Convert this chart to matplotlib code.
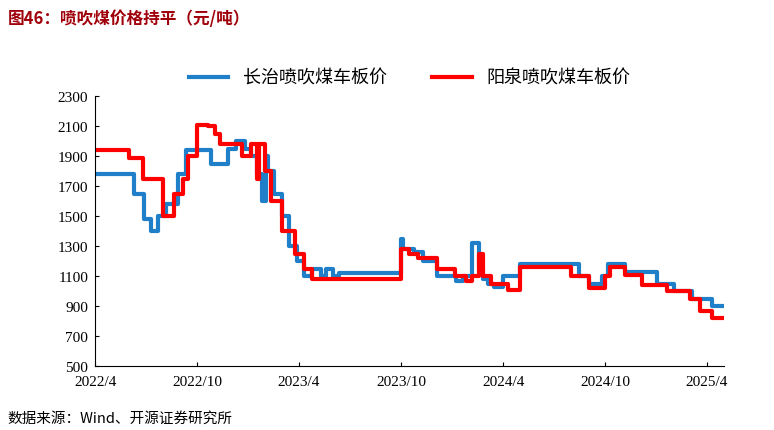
import matplotlib
matplotlib.use("Agg")
import matplotlib.pyplot as plt
import pandas as pd

plt.rcParams["font.family"] = ["Noto Sans CJK SC", "DejaVu Sans"]

changzhi_dates = ["2022-04-01","2022-06-10","2022-06-28","2022-07-10","2022-07-22","2022-08-05","2022-08-28","2022-09-10","2022-09-20","2022-10-25","2022-11-25","2022-12-10","2022-12-25","2023-01-05","2023-01-15","2023-01-25","2023-02-01","2023-02-05","2023-02-15","2023-03-01","2023-03-15","2023-03-28","2023-04-10","2023-04-25","2023-05-10","2023-05-20","2023-06-01","2023-06-12","2023-07-01","2023-09-30","2023-10-05","2023-10-25","2023-11-10","2023-12-05","2024-01-08","2024-01-20","2024-02-05","2024-02-18","2024-02-24","2024-03-05","2024-03-15","2024-04-01","2024-05-01","2024-08-15","2024-09-01","2024-09-25","2024-10-05","2024-11-05","2025-01-01","2025-02-01","2025-03-05","2025-04-10","2025-05-01"]
changzhi_vals = [1780,1650,1480,1400,1500,1580,1780,1940,1940,1850,1950,2000,1950,1900,1780,1600,1900,1800,1650,1500,1300,1200,1100,1150,1100,1150,1100,1120,1120,1350,1280,1260,1200,1100,1070,1100,1320,1150,1080,1050,1030,1100,1180,1100,1050,1100,1180,1130,1050,1000,950,900,900]

yangquan_dates = ["2022-04-01","2022-06-01","2022-06-25","2022-08-01","2022-08-20","2022-09-05","2022-09-15","2022-10-01","2022-10-20","2022-11-01","2022-11-10","2022-12-05","2022-12-20","2023-01-05","2023-01-15","2023-01-20","2023-01-30","2023-02-10","2023-03-01","2023-03-25","2023-04-10","2023-04-25","2023-05-05","2023-09-30","2023-10-15","2023-11-01","2023-12-05","2024-01-05","2024-01-25","2024-02-05","2024-02-18","2024-02-25","2024-03-10","2024-04-10","2024-05-01","2024-08-01","2024-09-01","2024-10-01","2024-10-10","2024-11-05","2024-12-05","2025-01-20","2025-03-01","2025-03-20","2025-04-10","2025-05-01"]
yangquan_vals = [1940,1890,1750,1500,1650,1750,1900,2110,2100,2050,1980,1980,1900,1980,1750,1980,1800,1600,1400,1250,1150,1080,1080,1280,1250,1220,1150,1100,1070,1100,1250,1100,1050,1010,1160,1100,1020,1100,1160,1110,1040,1000,950,870,820,820]

s1 = pd.Series(changzhi_vals, index=pd.to_datetime(changzhi_dates))
s2 = pd.Series(yangquan_vals, index=pd.to_datetime(yangquan_dates))

fig = plt.figure(figsize=(7.74, 4.31), dpi=100)
ax = fig.add_axes([0.123, 0.148, 0.812, 0.627])
ax.plot(s1.index, s1.values, drawstyle="steps-post", color="#1f7fc8", lw=3, label="长治喷吹煤车板价")
ax.plot(s2.index, s2.values, drawstyle="steps-post", color="#ff0000", lw=3, label="阳泉喷吹煤车板价")
ax.set_ylim(500, 2300)
ax.set_yticks(range(500, 2301, 200))
ticks = pd.to_datetime(["2022-04-01","2022-10-01","2023-04-01","2023-10-01","2024-04-01","2024-10-01","2025-04-01"])
ax.set_xticks(ticks)
ax.set_xticklabels([f"{t.year}/{t.month}" for t in ticks], fontfamily="Liberation Serif")
ax.set_xlim(pd.Timestamp("2022-04-01"), pd.Timestamp("2025-05-01"))
for lab in ax.get_yticklabels():
    lab.set_fontfamily("Liberation Serif")
ax.tick_params(labelsize=11, direction="in", length=3)
ax.tick_params(axis="x", pad=6)
ax.tick_params(axis="y", pad=5)
for sp in ["top", "right"]:
    ax.spines[sp].set_visible(False)
ax.legend(loc="upper center", bbox_to_anchor=(0.5, 1.16), ncol=2, frameon=False, fontsize=13, handlelength=2.2, columnspacing=2.5)
fig.text(0.01, 0.945, "图46：喷吹煤价格持平（元/吨）", color="#a0000a", fontsize=12, fontweight="bold")
fig.text(0.01, 0.02, "数据来源：Wind、开源证券研究所", fontsize=10.5)
fig.savefig("out.png", dpi=100)
